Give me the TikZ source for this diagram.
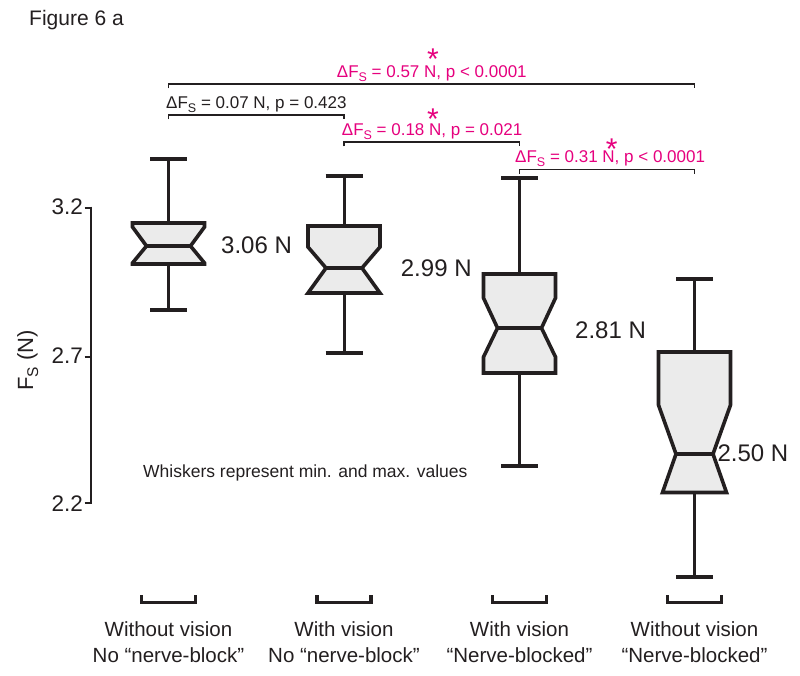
\documentclass[tikz,border=0pt]{standalone}
\usepackage{fontspec}
\setmainfont{Liberation Sans}
\definecolor{mag}{RGB}{230,0,126}
\definecolor{ink}{RGB}{35,31,32}
\definecolor{boxfill}{RGB}{235,235,235}
\newcommand{\fsz}[1]{\fontsize{#1}{#1}\selectfont}
\newcommand{\subS}[2]{\raisebox{-#2pt}{\fsz{#1}S}}
\newcommand{\dF}{ΔF\subS{12.5}{4}}
% cx, topcap, boxtop, notchtop, median, notchbottom, boxbottom, bottomcap, medianhalf
\newcommand{\notchbox}[9]{%
  \draw[whisk] (#1,#2) -- (#1,#3);
  \draw[whisk] (#1,#7) -- (#1,#8);
  \draw[whiskcap] ({#1-18.5},#2) -- ({#1+18.5},#2);
  \draw[whiskcap] ({#1-18.5},#8) -- ({#1+18.5},#8);
  \draw[boxline] ({#1-36},#3) -- ({#1+36},#3) -- ({#1+36},#4) -- ({#1+#9},#5)
     -- ({#1+\bh},#6) -- ({#1+\bh},#7) -- ({#1-\bh},#7) -- ({#1-\bh},#6)
     -- ({#1-#9},#5) -- ({#1-36},#4) -- cycle;
  \draw[boxline,fill=none] ({#1-#9},#5) -- ({#1+#9},#5);
}
\begin{document}
\begin{tikzpicture}[x=1pt,y=-1pt,
  boxline/.style={draw=ink,fill=boxfill,line width=3.6pt,line join=miter},
  whisk/.style={draw=ink,line width=3pt},
  whiskcap/.style={draw=ink,line width=3.6pt},
  brk/.style={draw=ink,line width=1.5pt},
  axisline/.style={draw=ink,line width=2.6pt},
  botbrk/.style={draw=ink,line width=3.2pt},
  ann/.style={font=\fsz{17},anchor=base west,inner sep=0pt},
  val/.style={font=\fsz{24},anchor=base west,inner sep=0pt,text=ink},
  tick/.style={font=\fsz{22.5},anchor=base east,inner sep=0pt,text=ink},
  grp/.style={font=\fsz{20.5},anchor=base,inner sep=0pt,text=ink},
  star/.style={font=\fsz{30},anchor=base,inner sep=0pt,text=mag}
]
\useasboundingbox (0,0) rectangle (800,676);
\fill[white] (0,0) rectangle (800,676);

% title
\node[font=\fsz{21},anchor=base west,inner sep=0pt,text=ink] (title) at (29,26) {Figure 6 a};

% y axis
\draw[axisline] (91,206.7) -- (91,504.3);
\draw[axisline] (84.5,208) -- (91,208);
\draw[axisline] (84.5,357) -- (91,357);
\draw[axisline] (84.5,503) -- (91,503);
\node[tick] (t32) at (83,214.5) {3.2};
\node[tick] (t27) at (83,363) {2.7};
\node[tick] (t22) at (83,511) {2.2};
\node[font=\fsz{22},anchor=base west,inner sep=0pt,rotate=90,text=ink] (ylab) at (33,391) {F\subS{15.5}{5} (N)};

% boxes
\def\bh{36}
\notchbox{168.5}{159}{223}{227}{246}{263}{264}{310}{22}
\notchbox{344}{176}{226}{247}{268}{293}{293}{353}{18}
\notchbox{519.5}{178}{274}{298}{328}{357}{373}{466}{22}
\def\bh{32}
\notchbox{694.5}{279}{352}{405}{454}{492.5}{492.5}{577}{18.5}

% value labels
\node[val] (v1) at (221,254) {3.06 N};
\node[val] (v2) at (400.7,276.7) {2.99 N};
\node[val] (v3) at (575,338.3) {2.81 N};
\node[val] (v4) at (717.3,461.7) {2.50 N};

% comparison brackets
\draw[brk] (168.5,88.5) -- (168.5,84) -- (694.5,84) -- (694.5,88.5);
\draw[brk] (168.5,119.5) -- (168.5,115) -- (344,115) -- (344,119.5);
\draw[brk] (344,146.5) -- (344,142) -- (519.5,142) -- (519.5,146.5);
\draw[brk] (519.5,174) -- (519.5,169.5) -- (694.5,169.5) -- (694.5,174);

\node[ann,text=mag] (a57) at (336.7,77.5) {\dF\ = 0.57 N, p < 0.0001};
\node[ann,text=ink] (a07) at (166,108.5) {\dF\ = 0.07 N, p = 0.423};
\node[ann,text=mag] (a18) at (341.7,135.5) {\dF\ = 0.18 N, p = 0.021};
\node[ann,text=mag] (a31) at (515,163) {\dF\ = 0.31 N, p < 0.0001};
\node[star] (s57) at (433,58) {\raisebox{-12pt}[9pt][0pt]{*}};
\node[star] (s18) at (433,118) {\raisebox{-12pt}[9pt][0pt]{*}};
\node[star] (s31) at (611.7,148) {\raisebox{-12pt}[9pt][0pt]{*}};

\node[font=\fsz{17.5},anchor=base west,inner sep=0pt,text=ink] (whisk) at (143,477.5) {Whiskers represent min. and max. values};

% group brackets and labels
\foreach \cx in {168.5,344,519.5,694.5}{
  \draw[botbrk] ({\cx-27},595) -- ({\cx-27},602.5) -- ({\cx+27},602.5) -- ({\cx+27},595);
}
\node[grp] (g1a) at (168.5,636) {Without vision};
\node[grp] (g1b) at (168.5,662) {No “nerve-block”};
\node[grp] (g2a) at (344,636) {With vision};
\node[grp] (g2b) at (344,662) {No “nerve-block”};
\node[grp] (g3a) at (519.5,636) {With vision};
\node[grp] (g3b) at (519.5,662) {“Nerve-blocked”};
\node[grp] (g4a) at (694.5,636) {Without vision};
\node[grp] (g4b) at (694.5,662) {“Nerve-blocked”};
\end{tikzpicture}
\end{document}
